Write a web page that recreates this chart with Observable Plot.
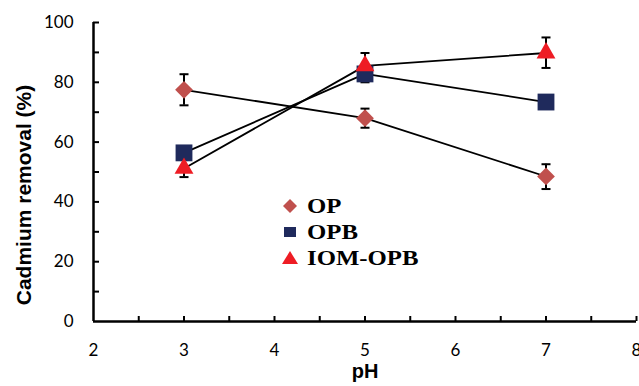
<!DOCTYPE html>
<html>
<head>
<meta charset="utf-8">
<script src="https://cdn.jsdelivr.net/npm/d3@7"></script>
<script src="https://cdn.jsdelivr.net/npm/@observablehq/plot@0.6"></script>
<style>
  body { margin: 0; background: #fff; }
  #wrap { position: relative; width: 639px; height: 386px; overflow: hidden; }
  #legend { position: absolute; left: 279px; top: 193px; font-family: "Liberation Serif", serif; font-weight: bold; font-size: 21px; line-height: 26px; color: #000; }
  #legend .row { display: flex; align-items: center; height: 26px; }
  #legend svg { width: 22px; height: 22px; margin-right: 6px; }
  #legend span { display: inline-block; transform: scaleX(1.18); transform-origin: left center; }
</style>
</head>
<body>
<div id="wrap"></div>
<script>
const pH = [3, 5, 7];
const seriesNames = ["OP", "OPB", "IOM-OPB"];
const opMean = [77.5, 68.0, 48.5];
const opLow  = [72.3, 64.8, 44.3];
const opHigh = [82.7, 71.2, 52.6];
const opbMean = [56.4, 82.8, 73.4];
const opbLow  = [55.4, 80.0, 72.4];
const opbHigh = [57.4, 85.6, 74.4];
const iomMean = [51.2, 85.5, 89.8];
const iomLow  = [48.3, 81.2, 84.8];
const iomHigh = [54.0, 89.8, 95.0];
const yTickLabels = [0, 20, 40, 60, 80, 100];
const yMinorTicks = [10, 20, 30, 40, 50, 60, 70, 80, 90, 100];
const xTickLabels = [2, 3, 4, 5, 6, 7, 8];
const xMinorTicks = [2.5, 3, 3.5, 4, 4.5, 5, 5.5, 6, 6.5, 7, 7.5, 8];
const colors = {"OP": "#C0504D", "OPB": "#1F2A5C", "IOM-OPB": "#EE1C24"};

const rows = [];
const addSeries = (name, mean, low, high) => pH.forEach((x, i) => rows.push({series: name, pH: x, value: mean[i], low: low[i], high: high[i]}));
addSeries("OP", opMean, opLow, opHigh);
addSeries("OPB", opbMean, opbLow, opbHigh);
addSeries("IOM-OPB", iomMean, iomLow, iomHigh);

const capSymbol = { draw(ctx, size) { const w = Math.sqrt(size / Math.PI); ctx.moveTo(-w, 0); ctx.lineTo(w, 0); } };

const width = 639, height = 386;
const mL = 93, mR = 3, mT = 22, mB = 65;
const plotW = width - mL - mR, plotH = height - mT - mB;

const chart = Plot.plot({
  width, height,
  marginLeft: mL, marginRight: mR, marginTop: mT, marginBottom: mB,
  style: {fontFamily: "Lato, sans-serif", background: "#fff", color: "#000", overflow: "visible"},
  x: {domain: [2, 8]},
  y: {domain: [0, 100]},
  marks: [
    Plot.axisY({ticks: yTickLabels, tickSize: 0, tickPadding: 20, fontSize: 17, label: null, tickFormat: d3.format("d")}),
    Plot.axisX({ticks: xTickLabels, tickSize: 0, tickPadding: 22, fontSize: 17, label: null, tickFormat: d3.format("d")}),
    Plot.tickY(yMinorTicks, {y: d => d, stroke: "#000", strokeWidth: 2, insetRight: plotW - 6}),
    Plot.tickX(xMinorTicks, {x: d => d, stroke: "#000", strokeWidth: 2, insetTop: plotH - 5}),
    Plot.ruleX([2], {stroke: "#000", strokeWidth: 2.5}),
    Plot.ruleY([0], {stroke: "#000", strokeWidth: 2.5}),
    Plot.line(rows, {x: "pH", y: "value", z: "series", stroke: "#000", strokeWidth: 1.8}),
    Plot.ruleX(rows, {x: "pH", y1: "low", y2: "high", stroke: "#000", strokeWidth: 2}),
    Plot.dot(rows, {x: "pH", y: "low", symbol: capSymbol, r: 4.5, stroke: "#000", strokeWidth: 2, fill: "none"}),
    Plot.dot(rows, {x: "pH", y: "high", symbol: capSymbol, r: 4.5, stroke: "#000", strokeWidth: 2, fill: "none"}),
    Plot.dot(rows.filter(d => d.series === "OP"), {x: "pH", y: "value", symbol: "diamond2", r: 8, fill: colors["OP"], stroke: "none"}),
    Plot.dot(rows.filter(d => d.series === "OPB"), {x: "pH", y: "value", symbol: "square", r: 9.5, fill: colors["OPB"], stroke: "none"}),
    Plot.dot(rows.filter(d => d.series === "IOM-OPB"), {x: "pH", y: "value", symbol: "triangle", r: 7, fill: colors["IOM-OPB"], stroke: "none"}),
    Plot.text(["Cadmium removal (%)"], {frameAnchor: "left", textAnchor: "middle", dx: -69, dy: 23, rotate: -90, fontSize: 21, fontWeight: "bold", fontFamily: "Liberation Sans, Arial, sans-serif", fill: "#000"}),
    Plot.text(["pH"], {frameAnchor: "bottom", dy: 56, fontSize: 20, fontWeight: "bold", fontFamily: "Liberation Sans, Arial, sans-serif", fill: "#000"})
  ]
});
document.getElementById("wrap").appendChild(chart);

// Legend (HTML overlay inside the plot area)
const legend = document.createElement("div");
legend.id = "legend";
const shapes = {
  "OP": `<polygon points="11,4 18,11 11,18 4,11" fill="${colors["OP"]}"/>`,
  "OPB": `<rect x="5" y="6" width="12" height="10" fill="${colors["OPB"]}"/>`,
  "IOM-OPB": `<polygon points="11,4 19,17 3,17" fill="${colors["IOM-OPB"]}"/>`
};
seriesNames.forEach(name => {
  const row = document.createElement("div");
  row.className = "row";
  row.innerHTML = `<svg viewBox="0 0 22 22">${shapes[name]}</svg><span>${name}</span>`;
  legend.appendChild(row);
});
document.getElementById("wrap").appendChild(legend);
</script>
</body>
</html>
